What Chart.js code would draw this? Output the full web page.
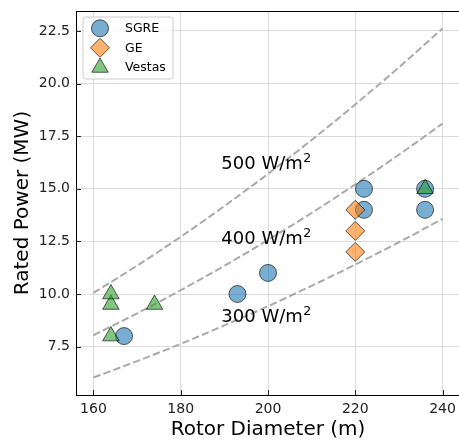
<!DOCTYPE html>
<html>
<head>
<meta charset="utf-8">
<script src="https://cdn.jsdelivr.net/npm/chart.js@4/dist/chart.umd.min.js"></script>
<style>
html,body{margin:0;padding:0;overflow:hidden;background:#fff;}
#wrap{width:460px;height:441px;}
</style>
</head>
<body>
<div id="wrap"><canvas id="c" width="460" height="441"></canvas></div>
<script>
// ---- data ----
const sgreDiameter = [167, 193, 200, 222, 222, 236, 236];
const sgrePower    = [8, 10, 11, 14, 15, 14, 15];
const geDiameter   = [220, 220, 220];
const gePower      = [12, 13, 14];
const vestasDiameter = [164, 164, 164, 174, 236];
const vestasPower    = [8, 9.5, 10, 9.5, 15];

// power-density reference curves
const curveDiameter = [160, 170, 180, 190, 200, 210, 220, 230, 240];
const curve300 = [6.03, 6.81, 7.63, 8.51, 9.42, 10.39, 11.40, 12.46, 13.57];
const curve400 = [8.04, 9.08, 10.18, 11.34, 12.57, 13.85, 15.21, 16.62, 18.10];
const curve500 = [10.05, 11.35, 12.72, 14.18, 15.71, 17.32, 19.01, 20.77, 22.62];
const curveLabels = ['300 W/m', '400 W/m', '500 W/m'];

const xTicks = [160, 180, 200, 220, 240];
const yTicks = [7.5, 10.0, 12.5, 15.0, 17.5, 20.0, 22.5];
const seriesNames = ['SGRE', 'GE', 'Vestas'];

// label anchor positions (layout)
const labelAnchors = [[189.3, 8.68], [189.3, 12.4], [189.3, 15.95]];

const pts = (xs, ys) => xs.map((x, i) => ({x: x, y: ys[i]}));
const FONT = "'DejaVu Sans', 'Liberation Sans', sans-serif";

const styles = [
  {pointStyle: 'circle', radius: 8.5, bg: 'rgba(31,119,180,0.6)'},
  {pointStyle: 'rectRot', radius: 9.5, bg: 'rgba(255,127,14,0.6)'},
  {pointStyle: 'triangle', radius: 9.5, bg: 'rgba(44,160,44,0.6)'}
];
const edge = 'rgba(0,0,0,0.62)';

function curveDs(vals) {
  return {
    type: 'line', data: pts(curveDiameter, vals), showLine: true,
    borderColor: '#aaaaaa', borderWidth: 2, borderDash: [7.4, 3.2],
    pointRadius: 0, pointHoverRadius: 0, fill: false,
    cubicInterpolationMode: 'monotone', order: 10
  };
}
function scatterDs(name, xs, ys, st, order) {
  return {
    label: name, data: pts(xs, ys), pointStyle: st.pointStyle,
    pointRadius: st.radius, pointHoverRadius: st.radius,
    backgroundColor: st.bg, borderColor: edge, borderWidth: 1, order: order
  };
}
function noPad(s) { s.paddingLeft = 0; s.paddingRight = 0; s.paddingTop = 0; s.paddingBottom = 0; }

const extras = {
  id: 'extras',
  afterDraw(chart) {
    const ctx = chart.ctx, a = chart.chartArea;
    const xs = chart.scales.x, ys = chart.scales.y;
    ctx.save();
    // top spine
    ctx.strokeStyle = '#000'; ctx.lineWidth = 1;
    ctx.beginPath(); ctx.moveTo(a.left, a.top + 0.5); ctx.lineTo(a.right, a.top + 0.5); ctx.stroke();
    // inward ticks
    ctx.strokeStyle = '#222';
    xTicks.forEach(v => {
      const px = Math.round(xs.getPixelForValue(v)) + 0.5;
      ctx.beginPath(); ctx.moveTo(px, a.bottom); ctx.lineTo(px, a.bottom - 5); ctx.stroke();
    });
    yTicks.forEach(v => {
      const py = Math.round(ys.getPixelForValue(v)) + 0.5;
      ctx.beginPath(); ctx.moveTo(a.left, py); ctx.lineTo(a.left + 5, py); ctx.stroke();
    });
    // curve labels
    ctx.fillStyle = '#000';
    ctx.textBaseline = 'alphabetic'; ctx.textAlign = 'left';
    curveLabels.forEach((t, i) => {
      const px = xs.getPixelForValue(labelAnchors[i][0]);
      const py = ys.getPixelForValue(labelAnchors[i][1]);
      ctx.font = '18px ' + FONT;
      ctx.fillText(t, px, py);
      const w = ctx.measureText(t).width;
      ctx.font = '12.6px ' + FONT;
      ctx.fillText('2', px + w + 0.5, py - 7);
    });
    // legend
    const bx = 83, by = 17, bw = 90, bh = 62, r = 3;
    ctx.beginPath();
    ctx.moveTo(bx + r, by); ctx.lineTo(bx + bw - r, by); ctx.quadraticCurveTo(bx + bw, by, bx + bw, by + r);
    ctx.lineTo(bx + bw, by + bh - r); ctx.quadraticCurveTo(bx + bw, by + bh, bx + bw - r, by + bh);
    ctx.lineTo(bx + r, by + bh); ctx.quadraticCurveTo(bx, by + bh, bx, by + bh - r);
    ctx.lineTo(bx, by + r); ctx.quadraticCurveTo(bx, by, bx + r, by);
    ctx.closePath();
    ctx.fillStyle = 'rgba(255,255,255,0.8)'; ctx.fill();
    ctx.strokeStyle = '#cccccc'; ctx.lineWidth = 1; ctx.stroke();
    const rowsY = [28.3, 47.8, 67.5];
    seriesNames.forEach((n, i) => {
      const st = styles[i];
      ctx.fillStyle = st.bg; ctx.strokeStyle = edge; ctx.lineWidth = 1;
      Chart.helpers.drawPoint(ctx, {pointStyle: st.pointStyle, radius: st.radius, rotation: 0, borderWidth: 1}, 100, rowsY[i]);
      ctx.fillStyle = '#000';
      ctx.font = '12.5px ' + FONT; ctx.textBaseline = 'middle'; ctx.textAlign = 'left';
      ctx.fillText(n, 125, rowsY[i] + 0.5);
    });
    ctx.restore();
  }
};

new Chart(document.getElementById('c'), {
  type: 'scatter',
  data: {
    datasets: [
      scatterDs('Vestas', vestasDiameter, vestasPower, styles[2], 0),
      scatterDs('GE', geDiameter, gePower, styles[1], 1),
      scatterDs('SGRE', sgreDiameter, sgrePower, styles[0], 2),
      curveDs(curve300), curveDs(curve400), curveDs(curve500)
    ]
  },
  options: {
    responsive: false, animation: false, devicePixelRatio: 1,
    layout: {autoPadding: false, padding: {top: 11, right: 0, left: 0, bottom: 0}},
    plugins: {legend: {display: false}, tooltip: {enabled: false}},
    scales: {
      x: {
        type: 'linear', min: 156, max: 244,
        afterFit: s => { s.height = 46; noPad(s); },
        afterBuildTicks: s => { s.ticks = xTicks.map(v => ({value: v})); },
        grid: {color: '#dcdcdc', lineWidth: 1, drawTicks: false},
        border: {display: true, color: '#000', width: 1},
        ticks: {color: '#222', font: {family: FONT, size: 14}, padding: 6, maxRotation: 0},
        title: {display: true, text: 'Rotor Diameter (m)', color: '#000', font: {family: FONT, size: 20}, padding: {top: 0, bottom: -1}}
      },
      y: {
        type: 'linear', min: 5.2, max: 23.45,
        afterFit: s => { s.width = 76; noPad(s); },
        afterBuildTicks: s => { s.ticks = yTicks.map(v => ({value: v})); },
        grid: {color: '#dcdcdc', lineWidth: 1, drawTicks: false},
        border: {display: true, color: '#000', width: 1},
        ticks: {color: '#222', font: {family: FONT, size: 14}, padding: 6, callback: v => Number(v).toFixed(1)},
        title: {display: true, text: 'Rated Power (MW)', color: '#000', font: {family: FONT, size: 20}, padding: {top: 11, bottom: 0}}
      }
    }
  },
  plugins: [extras]
});
</script>
</body>
</html>
